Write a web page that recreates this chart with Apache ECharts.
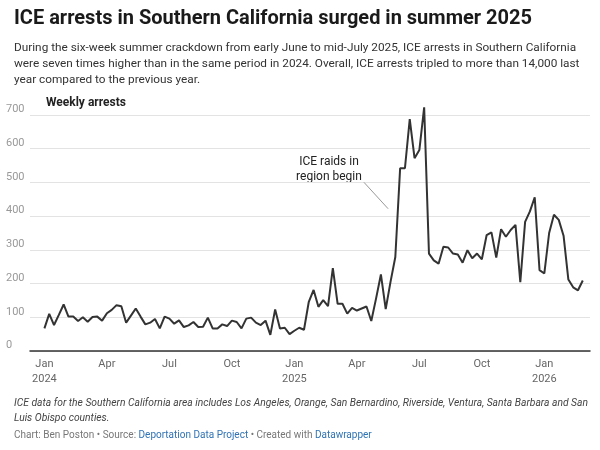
<!DOCTYPE html>
<html><head><meta charset="utf-8">
<script src="https://cdn.jsdelivr.net/npm/echarts@6/dist/echarts.min.js"></script>
<style>html,body{margin:0;padding:0;background:#fff}#c{width:600px;height:450px}</style>
</head><body><div id="c"></div>
<script>
const weeklyArrests = [67,110,77,107,138,102,102,89,100,87,101,102,90,112,122,136,133,84,105,126,102,79,84,95,67,102,96,81,91,71,76,86,71,72,99,67,67,79,74,90,86,67,96,99,84,77,90,48,123,67,69,50,60,69,63,
146,181,131,151,133,246,140,140,111,128,120,126,132,89,156,227,124,205,279,542,542,688,572,596,723,289,269,259,309,307,289,286,262,299,275,289,272,344,352,277,361,339,359,374,204,383,414,456,240,230,350,404,389,342,212,189,180,209];
const tickWeeks = [0,13,26,39,52,65,78,91,104];
const tickLabels = ['Jan\n2024','Apr','Jul','Oct','Jan\n2025','Apr','Jul','Oct','Jan\n2026'];
const raidWeek = 72;
const pts = weeklyArrests.map((v,i)=>[i,v]);
const chart = echarts.init(document.getElementById('c'));
const F='Roboto';
chart.setOption({
  animation:false,
  textStyle:{fontFamily:F},
  graphic:[
    {type:'text',left:14,top:9,style:{text:'ICE arrests in Southern California surged in summer 2025',font:'bold 20px Roboto',fill:'#1a1a1a'}},
    {type:'text',left:14,top:40,style:{text:'During the six-week summer crackdown from early June to mid-July 2025, ICE arrests in Southern California\nwere seven times higher than in the same period in 2024. Overall, ICE arrests tripled to more than 14,000 last\nyear compared to the previous year.',font:'11.8px Roboto',fill:'#333',lineHeight:16}},
    {type:'text',left:46,top:97,style:{text:'Weekly arrests',font:'bold 12px Roboto',fill:'#222'}},
    {type:'text',left:14,top:396,style:{text:'ICE data for the Southern California area includes Los Angeles, Orange, San Bernardino, Riverside, Ventura, Santa Barbara and San\nLuis Obispo counties.',font:'italic 10.3px Roboto',fill:'#444',lineHeight:15}},
    {type:'text',left:14,top:430,style:{rich:{g:{fill:'#777',fontSize:10,fontFamily:F},b:{fill:'#2f73b5',fontSize:10,fontFamily:F}},text:'{g|Chart: Ben Poston • Source: }{b|Deportation Data Project}{g| • Created with }{b|Datawrapper}'}},
    {type:'text',x:329,y:154,style:{text:'ICE raids in\nregion begin',font:'12px Roboto',fill:'#222',align:'center',lineHeight:15}}
  ],
  grid:{left:30,right:10,top:115,bottom:99},
  xAxis:{type:'value',min:-3,max:113.5,
    axisLine:{show:true,lineStyle:{color:'#333',width:1.5}},axisTick:{show:false},splitLine:{show:false},
    axisLabel:{customValues:tickWeeks,color:'#666',fontSize:11,lineHeight:15,margin:6,
      formatter:v=>tickLabels[tickWeeks.indexOf(v)]||''}},
  yAxis:{type:'value',min:0,max:700,interval:100,
    axisLine:{show:false},axisTick:{show:false},
    splitLine:{lineStyle:{color:'#e3e3e3'}},
    axisLabel:{color:'#999',fontSize:11,margin:12,align:'left',padding:[0,0,0,-12],verticalAlign:'bottom'}},
  series:[
    {type:'line',data:pts,symbol:'none',clip:false,lineStyle:{color:'#333',width:2},
     markLine:{silent:true,symbol:'none',label:{show:false},lineStyle:{color:'#aaa',type:'dashed',width:1},
       data:[[{coord:[raidWeek,0]},{coord:[raidWeek,750]}]]}},
    {type:'lines',coordinateSystem:'cartesian2d',silent:true,lineStyle:{color:'#333',width:1},
     data:[{coords:[[66.5,500],[71.5,422]]}]}
  ]
});
</script></body></html>
